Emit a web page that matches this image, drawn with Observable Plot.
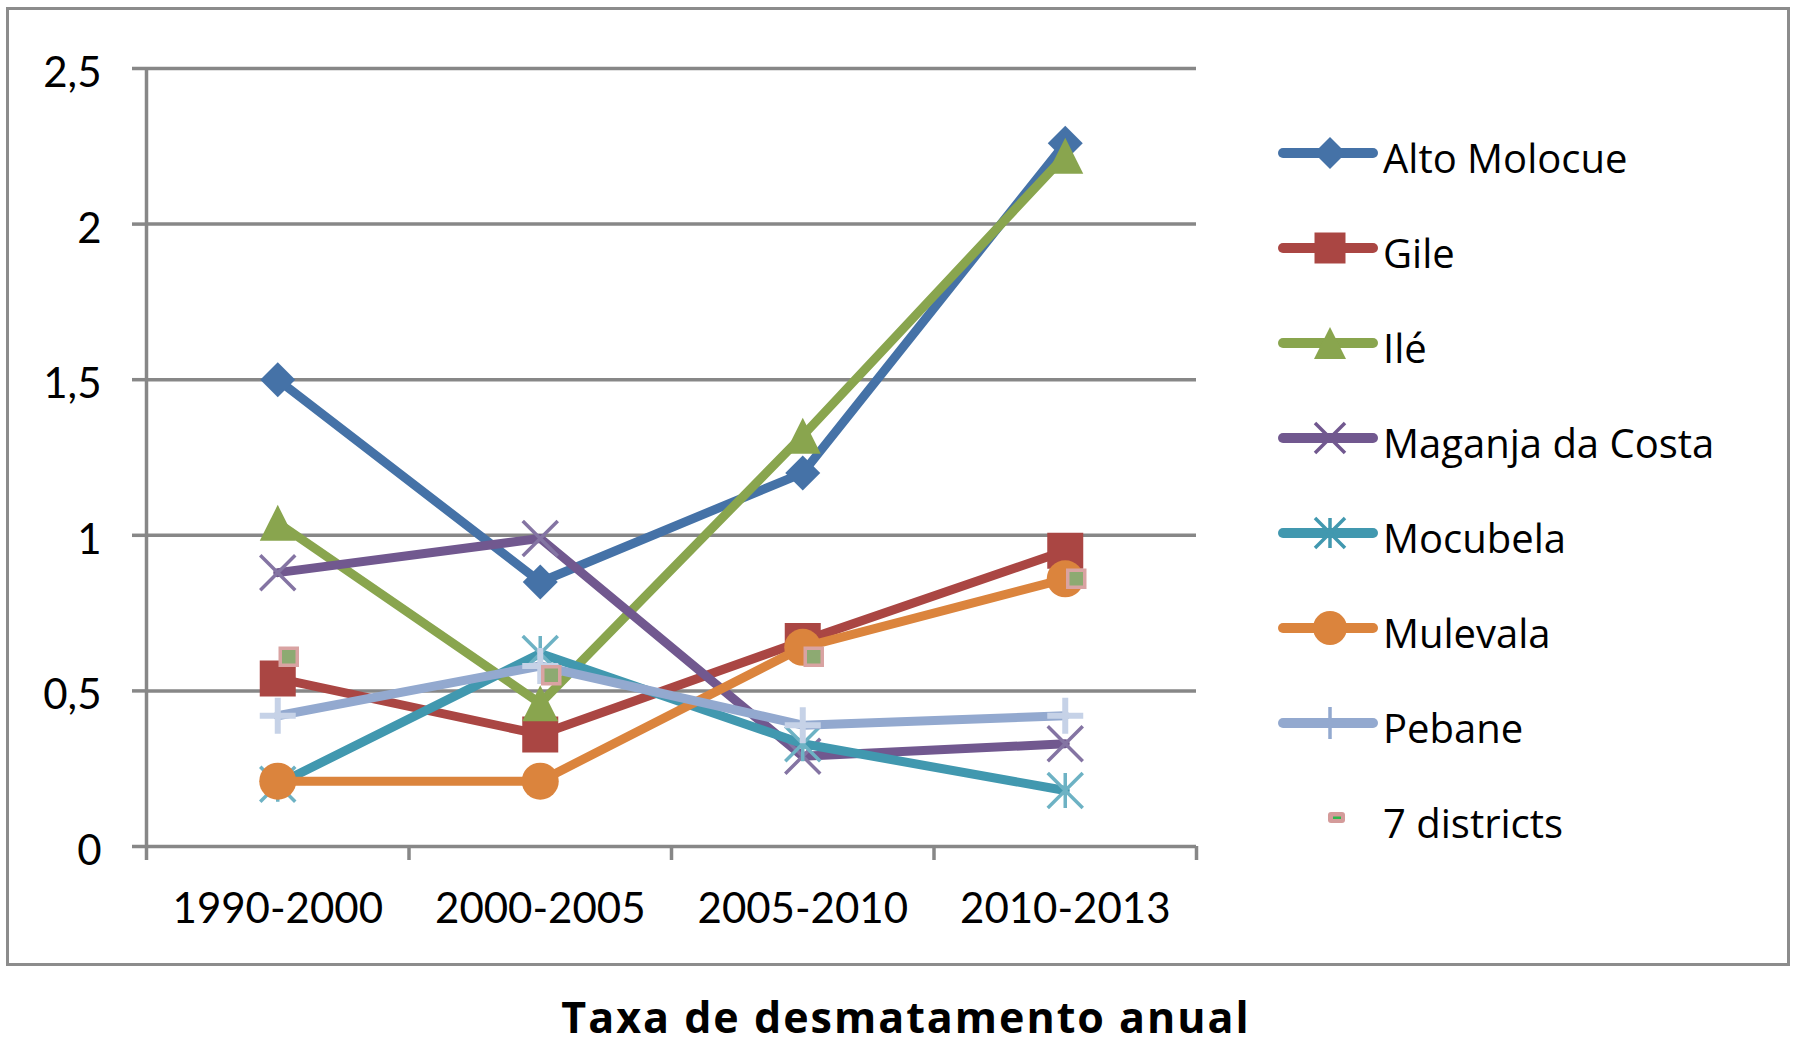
<!DOCTYPE html>
<html>
<head>
<meta charset="utf-8">
<script src="https://cdn.jsdelivr.net/npm/d3@7"></script>
<script src="https://cdn.jsdelivr.net/npm/@observablehq/plot@0.6"></script>
<style>
html, body { margin: 0; padding: 0; background: #fff; }
#page { position: relative; width: 1820px; height: 1050px; overflow: hidden; background: #fff; }
#frame { position: absolute; left: 6px; top: 7px; width: 1778px; height: 953px; border: 3px solid #8c8c8c; }
#chart { position: absolute; left: 0; top: 0; }
#legend { position: absolute; left: 1270px; top: 100px; }
#title { position: absolute; left: 0; top: 995px; width: 1812px; text-align: center;
  font-family: "Open Sans", sans-serif; font-weight: 700; font-size: 43px; line-height: 1;
  letter-spacing: 2px; color: #000; }
</style>
</head>
<body>
<div id="page">
  <div id="frame"></div>
  <div id="chart"></div>
  <svg id="legend" width="520" height="760"></svg>
  <div id="title">Taxa de desmatamento anual</div>
</div>
<script>
// ---------- data ----------
const periods = ["1990-2000", "2000-2005", "2005-2010", "2010-2013"];
const seriesNames = ["Alto Molocue", "Gile", "Ilé", "Maganja da Costa", "Mocubela", "Mulevala", "Pebane", "7 districts"];
const altoMolocue    = [1.50, 0.85, 1.20, 2.26];
const gile           = [0.54, 0.36, 0.66, 0.95];
const ile            = [1.04, 0.46, 1.32, 2.22];
const maganjaDaCosta = [0.88, 0.99, 0.29, 0.33];
const mocubela       = [0.20, 0.62, 0.33, 0.18];
const mulevala       = [0.21, 0.21, 0.64, 0.86];
const pebane         = [0.42, 0.58, 0.39, 0.42];
const sevenDistricts = [0.61, 0.55, 0.61, 0.86];
const yTicks = [0, 0.5, 1, 1.5, 2, 2.5];

const seriesValues = [altoMolocue, gile, ile, maganjaDaCosta, mocubela, mulevala, pebane, sevenDistricts];

// ---------- custom Excel-like marker shapes ----------
const half = size => Math.sqrt(size / Math.PI);
const symDiamond = { draw(c, size) { const r = half(size); c.moveTo(0, -r); c.lineTo(r, 0); c.lineTo(0, r); c.lineTo(-r, 0); c.closePath(); } };
const symSquare = { draw(c, size) { const r = half(size); c.moveTo(-r, -r); c.lineTo(r, -r); c.lineTo(r, r); c.lineTo(-r, r); c.closePath(); } };
const symTriangle = { draw(c, size) { const r = half(size); c.moveTo(0, -r); c.lineTo(r, r); c.lineTo(-r, r); c.closePath(); } };
const symTimes = { draw(c, size) { const r = half(size); c.moveTo(-r, -r); c.lineTo(r, r); c.moveTo(-r, r); c.lineTo(r, -r); } };
const symStar = { draw(c, size) { const r = half(size); c.moveTo(-r, -r); c.lineTo(r, r); c.moveTo(-r, r); c.lineTo(r, -r); c.moveTo(0, -r); c.lineTo(0, r); } };
const symCircle = { draw(c, size) { const r = half(size); c.moveTo(r, 0); c.arc(0, 0, r, 0, 2 * Math.PI); } };
const symPlus = { draw(c, size) { const r = half(size); c.moveTo(-r, 0); c.lineTo(r, 0); c.moveTo(0, -r); c.lineTo(0, r); } };

// ---------- styles ----------
const GRID = "#878787";
const colors = ["#4572A7", "#AA4643", "#89A54E", "#71588F", "#4198AF", "#DB843D", "#93A9CF", "#D19392"];
const symbols = [symDiamond, symSquare, symTriangle, symTimes, symStar, symCircle, symPlus, symSquare];
const markerR = [17.5, 18, 18, 17.5, 17.5, 18.5, 18, 8.5];
const markerFill = ["#4572A7", "#AA4643", "#89A54E", "none", "none", "#DB843D", "none", "#8DAA72"];
const markerStroke = ["none", "none", "none", "#8474A3", "#6DB2C4", "none", "#C6D2E7", "#D9A3A2"];
const markerStrokeWidth = [0, 0, 0, 3.5, 3.5, 0, 6, 3.5];
const markerDx = [0, 0, 0, 0, 0, 0, 0, 11];
const hasLine = [true, true, true, true, true, true, true, false];
const legendR = [16, 15.5, 16, 15, 15, 17, 16, 0];

// ---------- table ----------
const rows = seriesNames.flatMap((name, s) =>
  seriesValues[s].map((v, i) => ({ series: name, period: periods[i], pos: i + 0.5, value: v }))
);

const W = 1240, H = 960;
const marks = [
  Plot.gridY(yTicks.filter(d => d > 0), { stroke: GRID, strokeOpacity: 1, strokeWidth: 3.5 }),
  Plot.ruleY([0], { stroke: GRID, strokeWidth: 3.5 }),
  Plot.ruleX([0], { stroke: GRID, strokeWidth: 3.5 }),
  Plot.axisY({ ticks: yTicks, tickSize: 14, fill: "none", stroke: GRID, strokeWidth: 3.5, label: null }),
  Plot.axisY({ ticks: yTicks, tickSize: 0, tickPadding: 45, fill: "#000", stroke: "none", fontSize: 42, dy: 5,
    label: null, tickFormat: d => String(d).replace(".", ",") }),
  Plot.axisX({ ticks: d3.range(periods.length + 1), tickSize: 14, fill: "none", stroke: GRID, strokeWidth: 3.5, label: null }),
  Plot.axisX({ ticks: periods.map((p, i) => i + 0.5), tickSize: 0, tickPadding: 47, fill: "#000", stroke: "none",
    fontSize: 42, label: null, tickFormat: d => periods[Math.floor(d)] })
];

seriesNames.forEach((name, s) => {
  const data = rows.filter(d => d.series === name);
  if (hasLine[s]) {
    marks.push(Plot.line(data, { x: "pos", y: "value", stroke: colors[s], strokeWidth: 9,
      strokeLinejoin: "round", strokeLinecap: "round" }));
  }
  marks.push(Plot.dot(data, { x: "pos", y: "value", symbol: symbols[s], r: markerR[s],
    fill: markerFill[s], stroke: markerStroke[s], strokeWidth: markerStrokeWidth[s], dx: markerDx[s] }));
});

const chart = Plot.plot({
  width: W,
  height: H,
  marginLeft: 146,
  marginRight: W - 1196,
  marginTop: 68,
  marginBottom: H - 846,
  x: { type: "linear", domain: [0, periods.length] },
  y: { type: "linear", domain: [0, 2.5] },
  style: { fontFamily: "Lato, sans-serif", fontSize: "42px", color: "#000", background: "transparent", overflow: "visible" },
  marks
});
document.getElementById("chart").appendChild(chart);

// ---------- legend ----------
const legend = d3.select("#legend");
const rowTop = 53, rowStep = 95;
seriesNames.forEach((name, s) => {
  const cy = rowTop + s * rowStep;
  const g = legend.append("g").attr("transform", `translate(0,${cy})`);
  if (hasLine[s]) {
    g.append("line").attr("x1", 13).attr("x2", 103).attr("y1", 0).attr("y2", 0)
      .attr("stroke", colors[s]).attr("stroke-width", 10).attr("stroke-linecap", "round");
    g.append("path").attr("transform", "translate(60,0)")
      .attr("d", d3.symbol(symbols[s], Math.PI * legendR[s] * legendR[s])())
      .attr("fill", markerFill[s] === "none" ? "none" : colors[s])
      .attr("stroke", markerStroke[s] === "none" ? "none" : colors[s])
      .attr("stroke-width", markerStrokeWidth[s] ? 3.5 : 0);
  } else {
    g.append("rect").attr("x", 58).attr("y", -6).attr("width", 17).attr("height", 11).attr("rx", 3)
      .attr("fill", "#D49B9A");
    g.append("rect").attr("x", 63).attr("y", -1.5).attr("width", 8).attr("height", 2.5).attr("fill", "#2DB84C");
  }
  g.append("text").attr("x", 113).attr("y", 20)
    .attr("font-family", "'Open Sans', sans-serif").attr("font-size", 40).attr("fill", "#000")
    .text(name);
});
</script>
</body>
</html>
